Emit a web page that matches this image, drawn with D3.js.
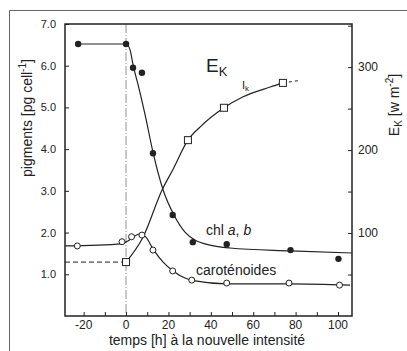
<!DOCTYPE html>
<html>
<head>
<meta charset="utf-8">
<script src="https://cdn.jsdelivr.net/npm/d3@7"></script>
<style>
  body { margin: 0; background: #fff; }
  svg { display: block; font-family: "Liberation Sans", Arial, sans-serif; }
</style>
</head>
<body>
<svg id="chart" width="407" height="351"></svg>
<script>
// measured points (time in h, pigments in pg/cell, Ek in W m-2)
const chlH = [-22.6, 0, 3.3, 7.5, 12.7, 22, 31.5, 47.5, 77.6, 100.2];
const chlV = [6.52, 6.52, 5.95, 5.83, 3.9, 2.42, 1.77, 1.72, 1.58, 1.37];
const caroH = [-23, -1.9, 2.6, 7.5, 12.7, 22, 31, 47.5, 76.9, 100.7];
const caroV = [1.68, 1.78, 1.9, 1.94, 1.58, 1.08, 0.86, 0.79, 0.79, 0.74];
const ekH = [0, 29.2, 46.2, 74];
const ekV = [65, 212, 251, 281];

// hand drawn fitted curves
const chlFitH = [-22.6, 0, 1.9, 3.3, 5.7, 9, 12.7, 17.5, 22.6, 27.8, 32.5, 39.6, 49, 77.4, 106.6];
const chlFitV = [6.52, 6.52, 6.38, 6.02, 5.54, 4.82, 3.93, 3.02, 2.42, 2.01, 1.82, 1.7, 1.63, 1.56, 1.51];
const caroFitH = [-28.8, -1.9, 0.9, 3.3, 6.6, 9.4, 12.7, 17.5, 22.2, 27.8, 32.5, 47.6, 77.4, 105.7];
const caroFitV = [1.68, 1.73, 1.8, 1.89, 1.97, 1.89, 1.61, 1.29, 1.08, 0.91, 0.84, 0.77, 0.77, 0.74];
const ekFitH = [0, 8, 17, 22, 29.2, 35, 46.2, 55, 68, 74];
const ekFitV = [65, 95, 152, 176, 212, 228, 251, 264, 276, 281];
const ekDashH = [74, 82];
const ekDashV = [281, 284];

const xTicks = [-20, -10, 0, 10, 20, 30, 40, 50, 60, 70, 80, 90, 100];
const xLabels = [-20, 0, 20, 40, 60, 80, 100];
const leftTicks = [1, 2, 3, 4, 5, 6, 7];
const rightTicks = [50, 100, 150, 200, 250, 300, 350];
const rightLabels = [100, 200, 300];

const ink = '#222';
const svg = d3.select('#chart');
const margin = {top: 24, left: 65};
const width = 287, height = 292;

// outer frame of the scanned figure
svg.append('path')
    .attr('d', 'M9.5,351 V10.5 H407')
    .attr('fill', 'none').attr('stroke', '#666').attr('stroke-width', 1);

const g = svg.append('g').attr('transform', `translate(${margin.left},${margin.top})`);

const x = d3.scaleLinear().domain([-28.8, 106.6]).range([0, width]);
const y = d3.scaleLinear().domain([0, 7]).range([height, 0]);
const y2 = d3.scaleLinear().domain([0, 352]).range([height, 0]);

// vertical marker at t = 0
g.append('line')
    .attr('x1', x(0)).attr('x2', x(0)).attr('y1', 0).attr('y2', height)
    .attr('stroke', '#777').attr('stroke-width', 0.8)
    .attr('stroke-dasharray', '9,2,1,2');

// horizontal dashed line to the first Ek square
g.append('line')
    .attr('x1', 0).attr('x2', x(ekH[0])).attr('y1', y2(ekV[0])).attr('y2', y2(ekV[0]))
    .attr('stroke', ink).attr('stroke-width', 1).attr('stroke-dasharray', '5,3');

// axes
g.append('g')
    .attr('transform', `translate(0,${height})`)
    .call(d3.axisBottom(x).tickValues(xTicks).tickSize(-4).tickFormat(''))
    .call(a => a.select('.domain').remove())
    .call(a => a.selectAll('line').attr('stroke', ink));

g.selectAll('.xlab').data(xLabels).enter().append('text')
    .attr('x', d => x(d)).attr('y', height + 13)
    .attr('text-anchor', 'middle').attr('font-size', 12).attr('fill', ink)
    .text(d => d < 0 ? '-' + Math.abs(d) : d);

g.append('g')
    .call(d3.axisLeft(y).tickValues(leftTicks).tickSize(-4).tickPadding(9).tickFormat(d3.format('.1f')))
    .call(a => a.select('.domain').remove())
    .call(a => a.selectAll('line').attr('stroke', ink))
    .call(a => a.selectAll('text').attr('font-size', 11).attr('fill', ink).attr('font-family', null));

g.append('g')
    .attr('transform', `translate(${width},0)`)
    .call(d3.axisRight(y2).tickValues(rightTicks).tickSize(-4).tickFormat(''))
    .call(a => a.select('.domain').remove())
    .call(a => a.selectAll('line').attr('stroke', ink));

g.selectAll('.rlab').data(rightLabels).enter().append('text')
    .attr('x', width + 6).attr('y', d => y2(d) + 4)
    .attr('font-size', 12).attr('fill', ink)
    .text(d => d);

// plot box
g.append('rect')
    .attr('width', width).attr('height', height)
    .attr('fill', 'none').attr('stroke', ink).attr('stroke-width', 1.5);

// curves
const lineL = d3.line().x(d => x(d[0])).y(d => y(d[1])).curve(d3.curveMonotoneX);
const lineR = d3.line().x(d => x(d[0])).y(d => y2(d[1])).curve(d3.curveMonotoneX);

g.append('path').datum(d3.zip(chlFitH, chlFitV))
    .attr('d', lineL).attr('fill', 'none').attr('stroke', ink).attr('stroke-width', 1.2);
g.append('path').datum(d3.zip(caroFitH, caroFitV))
    .attr('d', lineL).attr('fill', 'none').attr('stroke', ink).attr('stroke-width', 1.2);
g.append('path').datum(d3.zip(ekFitH, ekFitV))
    .attr('d', lineR).attr('fill', 'none').attr('stroke', ink).attr('stroke-width', 1.2);
g.append('path').datum(d3.zip(ekDashH, ekDashV))
    .attr('d', lineR).attr('fill', 'none').attr('stroke', ink).attr('stroke-width', 1)
    .attr('stroke-dasharray', '3,3');

// markers
g.selectAll('.chl').data(d3.zip(chlH, chlV)).enter().append('circle')
    .attr('cx', d => x(d[0])).attr('cy', d => y(d[1])).attr('r', 3.2)
    .attr('fill', ink);
g.selectAll('.caro').data(d3.zip(caroH, caroV)).enter().append('circle')
    .attr('cx', d => x(d[0])).attr('cy', d => y(d[1])).attr('r', 3)
    .attr('fill', '#fff').attr('stroke', ink).attr('stroke-width', 1);
g.selectAll('.ek').data(d3.zip(ekH, ekV)).enter().append('rect')
    .attr('x', d => x(d[0]) - 3.5).attr('y', d => y2(d[1]) - 3.5)
    .attr('width', 7).attr('height', 7)
    .attr('fill', '#fff').attr('stroke', ink).attr('stroke-width', 1);

// in-plot labels
const ek = svg.append('text').attr('x', 206).attr('y', 72).attr('fill', ink).attr('font-size', 19);
ek.append('tspan').text('E');
ek.append('tspan').attr('font-size', 13).attr('dy', 4).text('K');

const ik = svg.append('text').attr('x', 242).attr('y', 89).attr('fill', ink).attr('font-size', 11);
ik.append('tspan').text('I');
ik.append('tspan').attr('font-size', 8).attr('dy', 2).text('k');

const chl = svg.append('text').attr('x', 206).attr('y', 235).attr('fill', ink).attr('font-size', 14);
chl.append('tspan').text('chl ');
chl.append('tspan').attr('font-style', 'italic').text('a');
chl.append('tspan').text(', ');
chl.append('tspan').attr('font-style', 'italic').text('b');

svg.append('text').attr('x', 196).attr('y', 275).attr('fill', ink).attr('font-size', 14)
    .text('caroténoides');

// axis titles
const lt = svg.append('text')
    .attr('transform', 'translate(32,118) rotate(-90)')
    .attr('text-anchor', 'middle').attr('fill', ink).attr('font-size', 14);
lt.append('tspan').text('pigments [pg cell');
lt.append('tspan').attr('font-size', 10).attr('dy', -6).text('-1');
lt.append('tspan').attr('dy', 6).text(']');

const rt = svg.append('text')
    .attr('transform', 'translate(399,105) rotate(-90)')
    .attr('text-anchor', 'middle').attr('fill', ink).attr('font-size', 14);
rt.append('tspan').text('E');
rt.append('tspan').attr('font-size', 10).attr('dy', 3).text('K');
rt.append('tspan').attr('dy', -3).text(' [w m');
rt.append('tspan').attr('font-size', 10).attr('dy', -6).text('-2');
rt.append('tspan').attr('dy', 6).text(']');

svg.append('text').attr('x', 207).attr('y', 345)
    .attr('text-anchor', 'middle').attr('fill', ink).attr('font-size', 14)
    .text('temps [h] à la nouvelle intensité');
</script>
</body>
</html>
